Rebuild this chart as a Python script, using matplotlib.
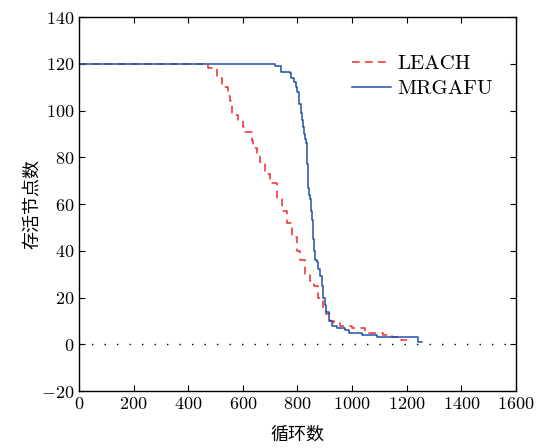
import matplotlib
matplotlib.use("Agg")
import matplotlib.pyplot as plt
from matplotlib.ticker import FuncFormatter

# survival curves (round, alive nodes)
leach_rounds = [0, 472, 505, 524, 546, 553, 560, 582, 600, 608, 633, 637, 652,
                663, 681, 700, 707, 725, 743, 762, 780, 798, 809, 827, 845, 860,
                875, 893, 905, 919, 935, 956, 1000, 1047, 1113, 1146, 1180, 1200]
leach_alive = [120, 118, 114, 110, 106, 104, 98, 96, 93, 91, 87, 84, 82,
               78, 73, 70, 69, 62, 57, 52, 46, 40, 36, 30, 27, 25,
               20, 16, 13, 10, 9, 8, 7, 5, 4, 3, 2, 2]

mrgafu_rounds = [0, 718, 740, 773, 778, 788, 796, 800, 804, 807, 811, 814, 818,
                 821, 824, 827, 830, 833, 836, 838, 840, 843, 845, 849, 852, 855,
                 858, 862, 865, 870, 876, 882, 888, 893, 899, 905, 915, 925,
                 945, 975, 990, 1035, 1090, 1240, 1256]
mrgafu_alive = [120, 119, 116.5, 116, 114, 112, 110, 108, 106, 103, 101, 99, 96,
                93, 90, 88, 86, 82, 77, 72, 67, 64, 62, 57, 53, 49,
                45, 40, 36, 35, 32, 29, 25, 20, 17, 14, 10, 8,
                7, 6, 5, 4, 3, 1, 1]

x_ticks = [0, 200, 400, 600, 800, 1000, 1200, 1400, 1600]
y_ticks = [-20, 0, 20, 40, 60, 80, 100, 120, 140]

plt.rcParams["font.family"] = ["cmr10", "Noto Sans CJK SC", "DejaVu Sans"]
plt.rcParams["mathtext.fontset"] = "cm"

fig = plt.figure(figsize=(5.54, 4.48), dpi=100)
ax = fig.add_axes([0.1426, 0.1272, 0.7888, 0.8348])

ax.plot(leach_rounds, leach_alive, drawstyle="steps-post", color="#ee2a2a",
        lw=1.1, dashes=(5, 3.5), label="LEACH")
ax.plot(mrgafu_rounds, mrgafu_alive, drawstyle="steps-post", color="#1f4fa8",
        lw=1.1, label="MRGAFU")
ax.axhline(0, color="k", lw=1, ls=(0, (1, 8)))

ax.set_xlim(0, 1600)
ax.set_ylim(-20, 140)
ax.set_xticks(x_ticks)
ax.set_yticks(y_ticks)
fmt = FuncFormatter(lambda v, p: r"$%d$" % v)
ax.xaxis.set_major_formatter(fmt)
ax.yaxis.set_major_formatter(fmt)
ax.tick_params(direction="in", top=True, right=True, labelsize=13, length=4)
for s in ax.spines.values():
    s.set_linewidth(1.0)

ax.set_xlabel("循环数", fontsize=13, family="Noto Sans CJK SC", labelpad=10)
ax.set_ylabel("存活节点数", fontsize=13, family="Noto Sans CJK SC", labelpad=0)

leg = ax.legend(loc="upper right", bbox_to_anchor=(0.99, 0.95), frameon=False,
                fontsize=15, handlelength=1.9, handletextpad=0.3,
                labelspacing=0.3)

fig.savefig("out.png", dpi=100)
